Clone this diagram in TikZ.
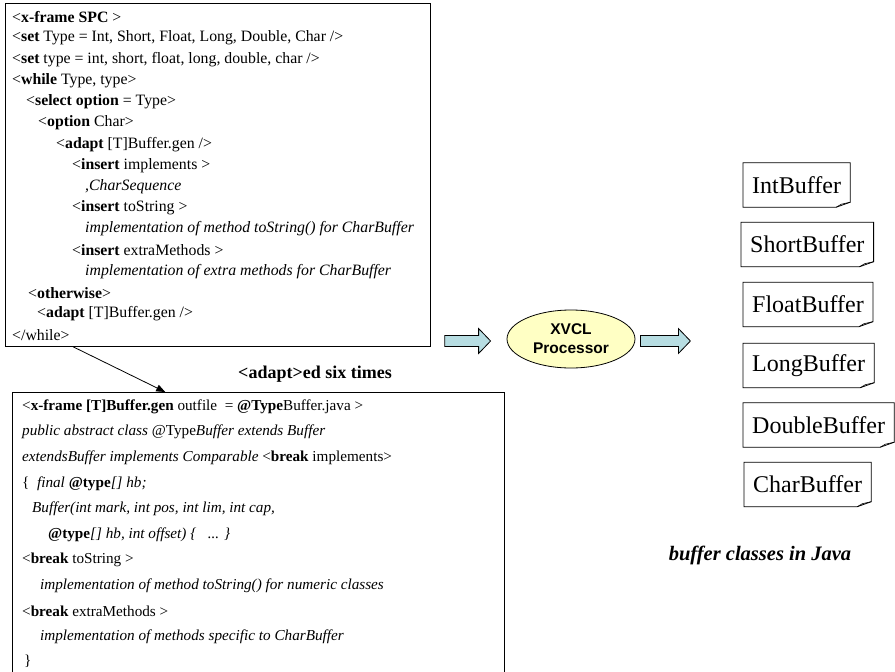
\documentclass[tikz,border=0pt]{standalone}
\usepackage{fontspec}
\setmainfont{Liberation Serif}
\newfontfamily\arialfont{Liberation Sans}
\usetikzlibrary{calc,shapes.geometric,arrows.meta}

\definecolor{arrowfill}{RGB}{183,221,226}
\definecolor{procfill}{RGB}{255,255,196}

% block arrow between two named coordinates
\newcommand{\blockarrow}[2]{%
  \draw[line width=0.8pt,fill=arrowfill,line join=miter]
    ($(#1)+(0,-5.5)$) -- ($(#2)+(-12,-5.5)$) -- ($(#2)+(-12,-12.5)$) --
    (#2) -- ($(#2)+(-12,12.5)$) -- ($(#2)+(-12,5.5)$) -- ($(#1)+(0,5.5)$) -- cycle;}

% outline of a generated file: rectangle with a folded lower right corner
\newcommand{\notebox}[1]{%
  \draw[line width=0.8pt]
    (#1.north west) -- (#1.north east) -- ($(#1.south east)+(0,-5)$) --
    ($(#1.south east)+(-14,0)$) -- (#1.south west) -- cycle;
  \draw[line width=0.6pt]
    ($(#1.south east)+(0,-5)$) -- ($(#1.south east)+(-9,-3)$) -- ($(#1.south east)+(-14,0)$);}

\begin{document}
\begin{tikzpicture}[x=1pt,y=-1pt,
  codeline/.style={anchor=west,inner sep=0pt,font=\fontsize{15.8}{18}\selectfont},
  lowline/.style={anchor=west,inner sep=0pt,font=\fontsize{15.2}{18}\selectfont},
  frame/.style={draw,line width=0.8pt,rectangle,anchor=north west,inner sep=0pt},
  bufname/.style={anchor=west,inner xsep=9pt,inner ysep=0pt,minimum height=44pt,
    font=\fontsize{24}{28}\selectfont}]
\clip (0,0) rectangle (895,672);
\fill[white] (0,0) rectangle (895,672);

% the SPC frame
\node[frame,minimum width=425pt,minimum height=343pt] (topbox) at (5,3) {};
\node[codeline] (t1)  at (12,17)    {<\textbf{x-frame SPC} >};
\node[codeline] (t2)  at (12,38.2)  {<\textbf{set} Type = Int, Short, Float, Long, Double, Char />};
\node[codeline] (t3)  at (12,59.4)  {<\textbf{set} type = int, short, float, long, double, char />};
\node[codeline] (t4)  at (12,80.6)  {<\textbf{while} Type, type>};
\node[codeline] (t5)  at (26,101.8) {<\textbf{select option} = Type>};
\node[codeline] (t6)  at (38,123)   {<\textbf{option} Char>};
\node[codeline] (t7)  at (56,144.2) {<\textbf{adapt} [T]Buffer.gen />};
\node[codeline] (t8)  at (72,165.4) {<\textbf{insert} implements >};
\node[codeline] (t9)  at (85,186.6) {\textit{,CharSequence}};
\node[codeline] (t10) at (72,207.8) {<\textbf{insert} toString >};
\node[codeline] (t11) at (85,229)   {\textit{implementation of method toString() for CharBuffer}};
\node[codeline] (t12) at (72,250.2) {<\textbf{insert} extraMethods >};
\node[codeline] (t13) at (85,271.4) {\textit{implementation of extra methods for CharBuffer}};
\node[codeline] (t14) at (28,292.6) {<\textbf{otherwise}>};
\node[codeline] (t15) at (37,313.8) {<\textbf{adapt} [T]Buffer.gen />};
\node[codeline] (t16) at (12,335)   {</while>};

% the [T]Buffer.gen frame
\node[frame,minimum width=492pt,minimum height=300pt] (botbox) at (12,392) {};
\node[lowline] (b1)  at (22,406.5) {<\textbf{x-frame [T]Buffer.gen} outfile\ \ = \textbf{@Type}Buffer.java >};
\node[lowline] (b2)  at (22,432.1) {\textit{public abstract class} @Type\textit{Buffer extends Buffer}};
\node[lowline] (b3)  at (22,457.7) {\textit{extendsBuffer implements Comparable} <\textbf{break} implements>};
\node[lowline] (b4)  at (22,483.3) {\{\ \ \textit{final} \textbf{@type}\textit{[] hb;}};
\node[lowline] (b5)  at (32,508.9) {\textit{Buffer(int mark, int pos, int lim, int cap,}};
\node[lowline] (b6)  at (48,534.5) {\textbf{@type}\textit{[] hb, int offset) \{\ \ \ ... \}}};
\node[lowline] (b7)  at (22,560.1) {<\textbf{break} toString >};
\node[lowline] (b8)  at (40,585.7) {\textit{implementation of method toString() for numeric classes}};
\node[lowline] (b9)  at (22,611.3) {<\textbf{break} extraMethods >};
\node[lowline] (b10) at (40,636.9) {\textit{implementation of methods specific to CharBuffer}};
\node[lowline] (b11) at (24,661.5) {\}};

% adaptation link
\draw[line width=0.8pt,-{Triangle[length=9pt,width=7pt]}]
  ($(topbox.south west)!0.16!(topbox.south east)$) --
  ($(botbox.north west)!0.311!(botbox.north east)$);
\node[font=\fontsize{18}{21}\selectfont\bfseries] (adaptlbl) at (315,374) {<adapt>ed six times};

% processor
\node[ellipse,draw,line width=0.8pt,fill=procfill,minimum width=128pt,minimum height=58pt,
  align=center,inner sep=0pt,font=\arialfont\bfseries\fontsize{15.5}{19}\selectfont]
  (xvcl) at (571,339) {XVCL\\Processor};

\coordinate (a1s) at ($(topbox.east |- xvcl.west)+(14,2)$);
\coordinate (a1e) at ($(xvcl.west)+(-16,2)$);
\coordinate (a2s) at ($(xvcl.east)+(5,2)$);
\coordinate (a2e) at ($(xvcl.east)+(55,2)$);
\blockarrow{a1s}{a1e}
\blockarrow{a2s}{a2e}

% generated classes
\node[bufname] (ib) at (743,185)   {IntBuffer};
\node[bufname] (sb) at (741,244.5) {ShortBuffer};
\node[bufname] (fb) at (743,304.5) {FloatBuffer};
\node[bufname] (lb) at (743,365.5) {LongBuffer};
\node[bufname] (db) at (743,425)   {DoubleBuffer};
\node[bufname] (cb) at (744,484.5) {CharBuffer};
\foreach \n in {ib,sb,fb,lb,db,cb} {\notebox{\n}}

\node[font=\fontsize{20.5}{24}\selectfont\bfseries\itshape] (javalbl) at (760,555) {buffer classes in Java};
\end{tikzpicture}
\end{document}
